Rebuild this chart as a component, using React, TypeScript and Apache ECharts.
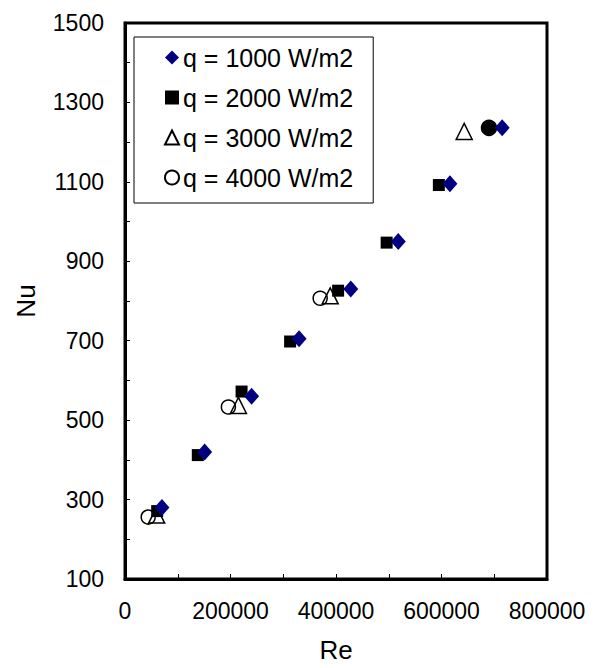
import React, { useEffect, useRef } from "react";
import * as echarts from "echarts";

const seriesNames = ["q = 1000 W/m2", "q = 2000 W/m2", "q = 3000 W/m2", "q = 4000 W/m2"];

const re1000 = [70000, 151000, 240000, 330000, 428000, 518000, 616000, 715000];
const nu1000 = [280, 420, 560, 705, 830, 950, 1095, 1236];

const re2000 = [61000, 138000, 221000, 313000, 404000, 496000, 595000];
const nu2000 = [271, 412, 572, 698, 826, 947, 1092];

const re3000 = [60000, 215000, 389000, 643000];
const nu3000 = [261, 537, 813, 1227];

const re4000 = [44000, 196000, 370000, 690000];
const nu4000 = [256, 533, 807, 1236];
const filled4000 = [false, false, false, true];

const xMin = 0;
const xMax = 800000;
const xStep = 100000;
const yMin = 100;
const yMax = 1500;
const yStep = 100;

const FONT = "'Liberation Sans', Arial, sans-serif";

function pairs(xs: number[], ys: number[]) {
  return xs.map((x, i) => [x, ys[i]]);
}

export default function App() {
  const ref = useRef<HTMLDivElement>(null);

  useEffect(() => {
    if (!ref.current) return;
    const chart = echarts.init(ref.current, undefined, { renderer: "svg" });
    const openStyle = { color: "rgba(255,255,255,0)", borderColor: "#000", borderWidth: 1.5, opacity: 1 };
    chart.setOption({
      animation: false,
      backgroundColor: "#fff",
      grid: {
        left: 125,
        right: 51,
        top: 23,
        bottom: 87,
        show: true,
        borderColor: "#000",
        borderWidth: 3,
        backgroundColor: "#fff",
      },
      xAxis: {
        type: "value",
        min: xMin,
        max: xMax,
        interval: xStep,
        name: "Re",
        nameLocation: "middle",
        nameGap: 58,
        nameTextStyle: { fontFamily: FONT, fontSize: 26, color: "#000" },
        axisLine: { show: true, lineStyle: { color: "#000", width: 3 } },
        axisTick: { show: true, inside: true, length: 5, lineStyle: { color: "#000", width: 1 } },
        splitLine: { show: false },
        axisLabel: {
          margin: 20,
          fontFamily: FONT,
          fontSize: 23,
          color: "#000",
          formatter: (v: number) => (v % 200000 === 0 ? String(v) : ""),
        },
      },
      yAxis: {
        type: "value",
        min: yMin,
        max: yMax,
        interval: yStep,
        name: "Nu",
        nameLocation: "middle",
        nameGap: 86,
        nameTextStyle: { fontFamily: FONT, fontSize: 26, color: "#000" },
        axisLine: { show: true, lineStyle: { color: "#000", width: 3 } },
        axisTick: { show: true, inside: true, length: 5, lineStyle: { color: "#000", width: 1 } },
        splitLine: { show: false },
        axisLabel: {
          margin: 21,
          fontFamily: FONT,
          fontSize: 23,
          color: "#000",
          formatter: (v: number) => ((v - 100) % 200 === 0 ? String(v) : ""),
        },
      },
      legend: {
        orient: "vertical",
        left: 134,
        top: 37,
        width: 244,
        padding: [8, 20, 13, 30],
        itemGap: 15,
        itemWidth: 14,
        itemHeight: 14,
        backgroundColor: "#fff",
        borderColor: "#000",
        borderWidth: 1,
        borderRadius: 0,
        data: seriesNames,
        textStyle: { fontFamily: FONT, fontSize: 25, color: "#000", lineHeight: 25, padding: [0, 0, 0, -1] },
      },
      series: [
        {
          name: seriesNames[1],
          type: "scatter",
          symbol: "rect",
          symbolSize: 12,
          z: 2,
          itemStyle: { color: "#000", opacity: 1 },
          data: pairs(re2000, nu2000),
        },
        {
          name: seriesNames[2],
          type: "scatter",
          symbol: "triangle",
          symbolSize: 16,
          z: 3,
          itemStyle: openStyle,
          data: pairs(re3000, nu3000),
        },
        {
          name: seriesNames[3],
          type: "scatter",
          symbol: "circle",
          symbolSize: 14,
          z: 3,
          itemStyle: openStyle,
          data: re4000.map((x, i) =>
            filled4000[i]
              ? { value: [x, nu4000[i]], symbolSize: 15, itemStyle: { color: "#000", borderColor: "#000", opacity: 1 } }
              : { value: [x, nu4000[i]] }
          ),
        },
        {
          name: seriesNames[0],
          type: "scatter",
          symbol: "diamond",
          symbolSize: [15, 17],
          z: 4,
          itemStyle: { color: "#000080", opacity: 1 },
          data: pairs(re1000, nu1000),
        },
      ],
    });
    return () => chart.dispose();
  }, []);

  return (
    <div
      ref={ref}
      style={{ position: "fixed", left: 0, top: 0, width: 598, height: 668, background: "#fff" }}
    />
  );
}
